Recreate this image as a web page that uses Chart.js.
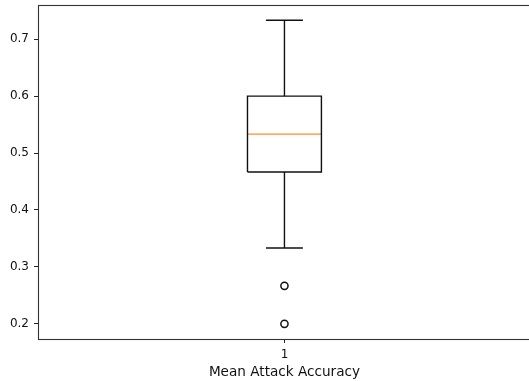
<!DOCTYPE html>
<html>
<head>
<meta charset="utf-8">
<script src="https://cdn.jsdelivr.net/npm/chart.js@4/dist/chart.umd.min.js"></script>
<style>
  html, body { margin: 0; padding: 0; background: #fff; overflow: hidden; width: 529px; height: 381px; }
  #wrap { width: 536px; height: 381px; }
  #c { display: block; width: 536px; height: 381px; }
</style>
</head>
<body>
<div id="wrap"><canvas id="c" width="536" height="381"></canvas></div>
<script>
// Box plot summary of mean attack accuracy
const categories = ['1'];
const lowerWhisker = [0.3333];
const q1 = [0.4667];
const median = [0.5333];
const q3 = [0.6];
const upperWhisker = [0.7333];
const outliers = [[0.2667, 0.2]];
const yTicks = [0.2, 0.3, 0.4, 0.5, 0.6, 0.7];
const xTitle = 'Mean Attack Accuracy';

const BOX_W = 0.15;
const FONT = 'DejaVu Sans';

// axis limits with a 5% margin around all plotted values
const allVals = [].concat(lowerWhisker, upperWhisker, q1, q3, ...outliers);
const vMin = Math.min(...allVals), vMax = Math.max(...allVals);
const pad = (vMax - vMin) * 0.05;

const datasets = [];
const lineDs = (pts, color) => ({
  type: 'scatter', data: pts, showLine: true, borderColor: color,
  borderWidth: 1.4, pointRadius: 0, pointHoverRadius: 0, fill: false, tension: 0
});
categories.forEach((cat, i) => {
  const x = i + 1, h = BOX_W / 2, c = BOX_W / 4;
  datasets.push(lineDs([
    {x: x - h, y: q1[i]}, {x: x + h, y: q1[i]}, {x: x + h, y: q3[i]},
    {x: x - h, y: q3[i]}, {x: x - h, y: q1[i]}], '#111'));
  datasets.push(lineDs([{x: x, y: q1[i]}, {x: x, y: lowerWhisker[i]}], '#111'));
  datasets.push(lineDs([{x: x - c, y: lowerWhisker[i]}, {x: x + c, y: lowerWhisker[i]}], '#111'));
  datasets.push(lineDs([{x: x, y: q3[i]}, {x: x, y: upperWhisker[i]}], '#111'));
  datasets.push(lineDs([{x: x - c, y: upperWhisker[i]}, {x: x + c, y: upperWhisker[i]}], '#111'));
  datasets.push(lineDs([{x: x - h, y: median[i]}, {x: x + h, y: median[i]}], '#ff8c2a'));
  datasets.push({
    type: 'scatter', data: outliers[i].map(v => ({x: x, y: v})), showLine: false,
    pointStyle: 'circle', pointRadius: 3.6, pointHoverRadius: 3.6,
    borderColor: '#111', borderWidth: 1.5, backgroundColor: 'rgba(0,0,0,0)'
  });
});

// draws the axes frame around the plot area
const frame = {
  id: 'frame',
  afterDatasetsDraw(chart) {
    const {ctx, chartArea: a} = chart;
    ctx.save();
    ctx.strokeStyle = '#333';
    ctx.lineWidth = 1.1;
    ctx.strokeRect(Math.round(a.left) + 0.5, Math.round(a.top) + 0.5,
                   Math.round(a.right - a.left), Math.round(a.bottom - a.top));
    ctx.restore();
  }
};

new Chart(document.getElementById('c'), {
  type: 'scatter',
  data: { datasets },
  plugins: [frame],
  options: {
    responsive: false,
    maintainAspectRatio: false,
    devicePixelRatio: 1,
    animation: false,
    events: [],
    layout: { padding: { top: 5, right: 1, left: 0, bottom: 0 } },
    plugins: { legend: { display: false }, tooltip: { enabled: false } },
    scales: {
      x: {
        type: 'linear', min: 0.5, max: 1.5,
        afterBuildTicks: s => { s.ticks = categories.map((_, i) => ({value: i + 1})); },
        afterFit: s => { s.height = 42; s.paddingLeft = 0; s.paddingRight = 0; },
        ticks: {
          autoSkip: false, maxRotation: 0, padding: 5, color: '#111',
          font: {family: FONT, size: 12},
          callback: v => categories[Math.round(v) - 1] ?? ''
        },
        grid: { display: true, drawOnChartArea: false, drawTicks: true, tickLength: 4, color: '#222', lineWidth: 1 },
        border: { display: false },
        title: {
          display: true, text: xTitle, color: '#111',
          font: {family: FONT, size: 13.6}, padding: {top: 0, bottom: 0}
        }
      },
      y: {
        type: 'linear', min: vMin - pad, max: vMax + pad,
        afterBuildTicks: s => { s.ticks = yTicks.map(v => ({value: v})); },
        afterFit: s => { s.width = 38; s.paddingTop = 0; s.paddingBottom = 0; },
        ticks: {
          autoSkip: false, padding: 5, color: '#111',
          font: {family: FONT, size: 12},
          callback: v => Number(v).toFixed(1)
        },
        grid: { display: true, drawOnChartArea: false, drawTicks: true, tickLength: 4, color: '#222', lineWidth: 1 },
        border: { display: false }
      }
    }
  }
});
</script>
</body>
</html>
